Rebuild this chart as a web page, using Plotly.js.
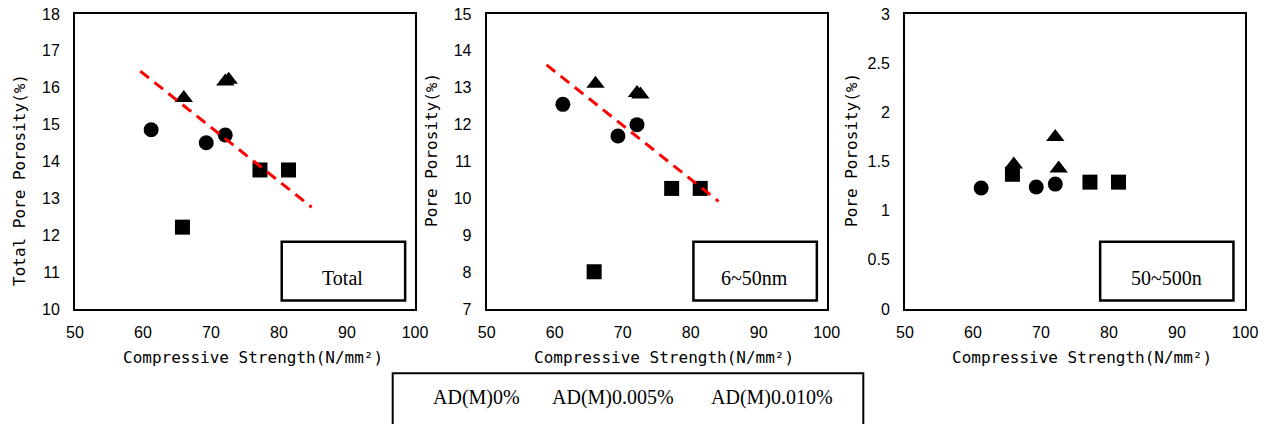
<!DOCTYPE html>
<html>
<head>
<meta charset="utf-8">
<script src="https://cdn.plot.ly/plotly-3.0.1.min.js"></script>
<style>html,body{margin:0;padding:0;background:#fff;}#chart{width:1268px;height:424px;}</style>
</head>
<body>
<div id="chart"></div>
<script>
// ---- data ----
const seriesNames = ["AD(M)0%", "AD(M)0.005%", "AD(M)0.010%"];
const xCircle = [61.2, 69.3, 72.1];     // AD(M)0%
const xTriangle = [66.0, 72.1, 72.6];   // AD(M)0.005%
const xSquare = [65.8, 77.2, 81.4];     // AD(M)0.010%

const totalCircle = [14.86, 14.51, 14.72];
const totalTriangle = [15.72, 16.17, 16.22];
const totalSquare = [12.22, 13.77, 13.77];

const midCircle = [12.55, 11.69, 12.0];
const midTriangle = [13.11, 12.86, 12.82];
const midSquare = [8.01, 10.27, 10.27];

const largeCircle = [1.23, 1.24, 1.27];
const largeTriangle = [1.47, 1.75, 1.43];
const largeSquare = [1.37, 1.29, 1.29];

const trendTotalX = [59.6, 84.8];
const trendTotalY = [16.45, 12.76];
const trendMidX = [58.8, 84.1];
const trendMidY = [13.62, 9.92];

const panelLabels = ["Total", "6~50nm", "50~500n"];
const yTitles = ["Total Pore Porosity(%)", "Pore Porosity(%)", "Pore Porosity(%)"];
const xTitle = "Compressive Strength(N/mm²)";
const yRanges = [[10, 18], [7, 15], [0, 3]];
const yDtick = [1, 1, 0.5];

// ---- build ----
const symbols = ["circle", "triangle-up", "square"];
const sizes = [15, 16, 15];
const panels = [
  [totalCircle, totalTriangle, totalSquare],
  [midCircle, midTriangle, midSquare],
  [largeCircle, largeTriangle, largeSquare]
];
const xs = [xCircle, xTriangle, xSquare];
const traces = [];
panels.forEach((p, i) => {
  const ax = i === 0 ? "" : String(i + 1);
  p.forEach((ys, s) => {
    traces.push({
      type: "scatter", mode: "markers", x: xs[s], y: ys,
      xaxis: "x" + ax, yaxis: "y" + ax, name: seriesNames[s], showlegend: false,
      marker: {symbol: symbols[s], size: sizes[s], color: "#000"},
      cliponaxis: false
    });
  });
});
traces.push({type: "scatter", mode: "lines", x: trendTotalX, y: trendTotalY, xaxis: "x", yaxis: "y",
  showlegend: false, line: {color: "#ff0000", width: 3, dash: "11px,7px"}});
traces.push({type: "scatter", mode: "lines", x: trendMidX, y: trendMidY, xaxis: "x2", yaxis: "y2",
  showlegend: false, line: {color: "#ff0000", width: 3, dash: "11px,7px"}});

const L = 75, PW = 1170;
const pxDom = [[75, 415], [486.7, 826.7], [905, 1245]];
const tickFont = {family: "Liberation Sans, Arial, sans-serif", size: 16, color: "#000"};
const titleFont = {family: "DejaVu Sans Mono, monospace", size: 16, color: "#000"};

const layout = {
  width: 1268, height: 424,
  margin: {l: L, r: 1268 - L - PW, t: 14, b: 115},
  paper_bgcolor: "#fff", plot_bgcolor: "#fff",
  showlegend: false,
  shapes: [], annotations: []
};
const py = v => (309 - v) / 295;
const pxp = v => (v - L) / PW;
const yTitleX = [19, 432, 852];
const yTitleY = [180, 150, 150];
const xTitleX = [252.5, 664, 1082];
for (let i = 0; i < 3; i++) {
  const ax = i === 0 ? "" : String(i + 1);
  layout["xaxis" + ax] = {
    domain: [(pxDom[i][0] - L) / PW, (pxDom[i][1] - L) / PW],
    range: [50, 100], dtick: 10, tick0: 50, anchor: "y" + ax,
    showgrid: false, zeroline: false, showline: true, mirror: true, linecolor: "#000", linewidth: 2,
    ticks: "", ticklabelstandoff: 8, tickfont: tickFont
  };
  layout["yaxis" + ax] = {
    domain: [0, 1], range: yRanges[i], dtick: yDtick[i], anchor: "x" + ax,
    showgrid: false, zeroline: false, showline: true, mirror: true, linecolor: "#000", linewidth: 2,
    ticks: "", ticklabelstandoff: 10, tickfont: tickFont
  };
  layout.annotations.push({xref: "paper", yref: "paper", x: pxp(yTitleX[i]), y: py(yTitleY[i]),
    text: yTitles[i], textangle: -90, showarrow: false, xanchor: "center", yanchor: "middle",
    font: titleFont});
  layout.annotations.push({xref: "paper", yref: "paper", x: pxp(xTitleX[i]), y: py(357.5),
    text: xTitle, showarrow: false, xanchor: "center", yanchor: "middle", font: titleFont});
}
const boxX = [[0.608, 0.971], [0.608, 0.971], [0.574, 0.966]];
const labX = [0.788, 0.789, 0.770];
for (let i = 0; i < 3; i++) {
  const ax = i === 0 ? "" : String(i + 1);
  layout.shapes.push({type: "rect", xref: "x" + ax + " domain", yref: "y" + ax + " domain",
    x0: boxX[i][0], x1: boxX[i][1], y0: 0.029, y1: 0.228,
    line: {color: "#000", width: 2.5}, fillcolor: "rgba(0,0,0,0)"});
  layout.annotations.push({xref: "x" + ax + " domain", yref: "y" + ax + " domain",
    x: labX[i], y: 0.105, text: panelLabels[i], showarrow: false, xanchor: "center", yanchor: "middle",
    font: {family: "Liberation Serif, Times New Roman, serif", size: 20, color: "#000"}});
}
// bottom legend box (text only, as in the reference)
layout.shapes.push({type: "rect", xref: "paper", yref: "paper",
  x0: pxp(392.7), x1: pxp(863.3), y0: py(440), y1: py(373.3),
  line: {color: "#000", width: 2}, fillcolor: "rgba(0,0,0,0)"});
const legX = [476.7, 613, 771.7];
seriesNames.forEach((n, k) => {
  layout.annotations.push({xref: "paper", yref: "paper", x: pxp(legX[k]), y: py(397),
    text: n, showarrow: false, xanchor: "center", yanchor: "middle",
    font: {family: "Liberation Serif, Times New Roman, serif", size: 20, color: "#000"}});
});

Plotly.newPlot("chart", traces, layout, {staticPlot: true, displayModeBar: false});
</script>
</body>
</html>
